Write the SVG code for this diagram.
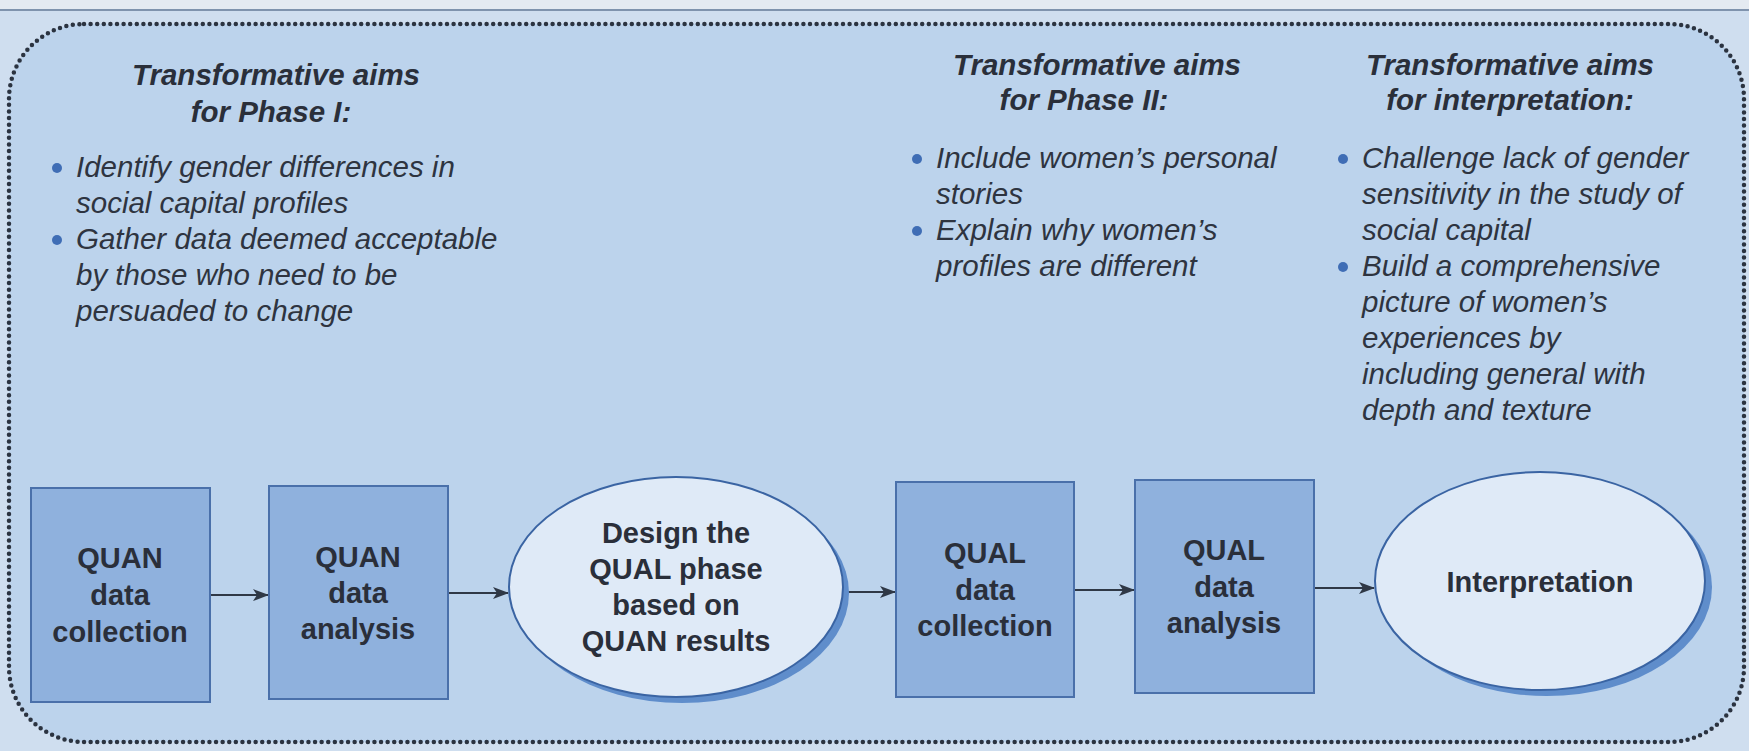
<svg xmlns="http://www.w3.org/2000/svg" width="1749" height="751" viewBox="0 0 1749 751">
<defs>
<marker id="arr" markerWidth="16" markerHeight="12" refX="15" refY="6" orient="auto" markerUnits="userSpaceOnUse">
<path d="M0,0 L16,6 L0,12 L4,6 Z" fill="#2f3846"/>
</marker>
</defs>
<style>
.hd{font-family:"Liberation Sans",Arial,sans-serif;font-size:29.5px;font-weight:bold;font-style:italic;fill:#2a2f3a;text-anchor:middle}
.bl{font-family:"Liberation Sans",Arial,sans-serif;font-size:29.5px;font-style:italic;fill:#2e3440}
.nt{font-family:"Liberation Sans",Arial,sans-serif;font-size:29px;font-weight:bold;fill:#2a2f3a;text-anchor:middle}
.dot{fill:#3f6db5}
.box{fill:#8fb1dd;stroke:#4a70aa;stroke-width:2}
.ell{fill:#dfeaf7;stroke:#3a64a3;stroke-width:2}
.sh{fill:#5f8dcb}
.cn{stroke:#2f3846;stroke-width:2;fill:none;marker-end:url(#arr)}
</style>
<rect x="0" y="0" width="1749" height="751" fill="#cfdeef"/>
<rect x="0" y="0" width="1749" height="9" fill="#e4eaf1"/>
<line x1="0" y1="10" x2="1749" y2="10" stroke="#7f93ad" stroke-width="2"/>
<rect x="9" y="24" width="1735" height="718" rx="75" ry="75" fill="#bcd3ec" stroke="#2b3340" stroke-width="4.5" stroke-dasharray="0 6.6" stroke-linecap="round"/>

<g id="aims1">
<text class="hd" x="276" y="85">Transformative aims</text>
<text class="hd" x="271" y="122">for Phase I:</text>
<circle class="dot" cx="57" cy="168" r="5"/>
<text class="bl" x="76" y="177">Identify gender differences in</text>
<text class="bl" x="76" y="213">social capital profiles</text>
<circle class="dot" cx="57" cy="240" r="5"/>
<text class="bl" x="76" y="249">Gather data deemed acceptable</text>
<text class="bl" x="76" y="285">by those who need to be</text>
<text class="bl" x="76" y="321">persuaded to change</text>
</g>

<g id="aims2">
<text class="hd" x="1097" y="75">Transformative aims</text>
<text class="hd" x="1084" y="110">for Phase II:</text>
<circle class="dot" cx="917" cy="159" r="5"/>
<text class="bl" x="936" y="168">Include women’s personal</text>
<text class="bl" x="936" y="204">stories</text>
<circle class="dot" cx="917" cy="231" r="5"/>
<text class="bl" x="936" y="240">Explain why women’s</text>
<text class="bl" x="936" y="276">profiles are different</text>
</g>

<g id="aims3">
<text class="hd" x="1510" y="75">Transformative aims</text>
<text class="hd" x="1510" y="110">for interpretation:</text>
<circle class="dot" cx="1343" cy="159" r="5"/>
<text class="bl" x="1362" y="168">Challenge lack of gender</text>
<text class="bl" x="1362" y="204">sensitivity in the study of</text>
<text class="bl" x="1362" y="240">social capital</text>
<circle class="dot" cx="1343" cy="267" r="5"/>
<text class="bl" x="1362" y="276">Build a comprehensive</text>
<text class="bl" x="1362" y="312">picture of women’s</text>
<text class="bl" x="1362" y="348">experiences by</text>
<text class="bl" x="1362" y="384">including general with</text>
<text class="bl" x="1362" y="420">depth and texture</text>
</g>

<g id="connectors">
<line class="cn" x1="210" y1="595" x2="268" y2="595"/>
<line class="cn" x1="448" y1="593" x2="508" y2="593"/>
<line class="cn" x1="844" y1="592" x2="895" y2="592"/>
<line class="cn" x1="1074" y1="590" x2="1134" y2="590"/>
<line class="cn" x1="1314" y1="588" x2="1374" y2="588"/>
</g>

<g id="quan-collection">
<rect class="box" x="31" y="488" width="179" height="214"/>
<text class="nt" x="120" y="568">QUAN</text>
<text class="nt" x="120" y="605">data</text>
<text class="nt" x="120" y="642">collection</text>
</g>

<g id="quan-analysis">
<rect class="box" x="269" y="486" width="179" height="213"/>
<text class="nt" x="358" y="567">QUAN</text>
<text class="nt" x="358" y="603">data</text>
<text class="nt" x="358" y="639">analysis</text>
</g>

<g id="design-qual">
<ellipse class="sh" cx="682" cy="593" rx="167" ry="110"/>
<ellipse class="ell" cx="676" cy="587" rx="167" ry="110"/>
<text class="nt" x="676" y="543">Design the</text>
<text class="nt" x="676" y="579">QUAL phase</text>
<text class="nt" x="676" y="615">based on</text>
<text class="nt" x="676" y="651">QUAN results</text>
</g>

<g id="qual-collection">
<rect class="box" x="896" y="482" width="178" height="215"/>
<text class="nt" x="985" y="563">QUAL</text>
<text class="nt" x="985" y="600">data</text>
<text class="nt" x="985" y="636">collection</text>
</g>

<g id="qual-analysis">
<rect class="box" x="1135" y="480" width="179" height="213"/>
<text class="nt" x="1224" y="560">QUAL</text>
<text class="nt" x="1224" y="597">data</text>
<text class="nt" x="1224" y="633">analysis</text>
</g>

<g id="interpretation">
<ellipse class="sh" cx="1547" cy="587" rx="165" ry="109"/>
<ellipse class="ell" cx="1540" cy="581" rx="165" ry="109"/>
<text class="nt" x="1540" y="592">Interpretation</text>
</g>
</svg>
